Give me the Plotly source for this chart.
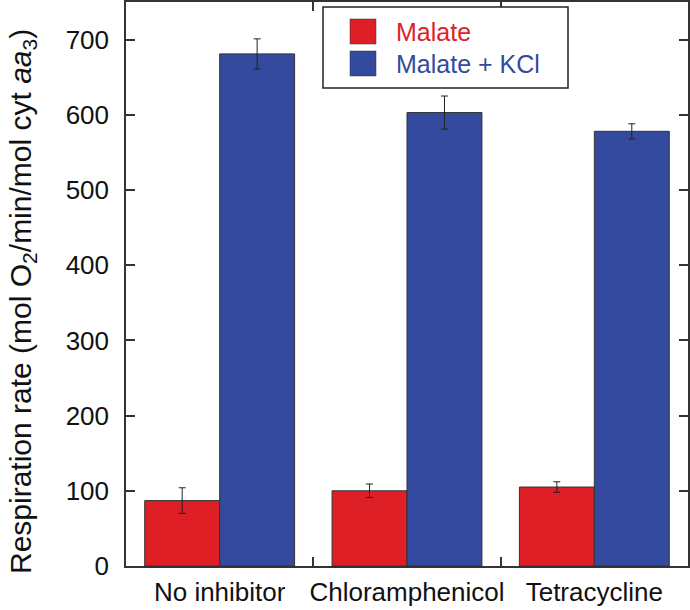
import plotly.graph_objects as go

categories = ["No inhibitor", "Chloramphenicol", "Tetracycline"]
malate = [87, 100, 105]
malate_err = [17, 9, 7]
malate_kcl = [681, 603, 578]
malate_kcl_err = [20, 22, 10]
series_names = ["Malate", "Malate + KCl"]
y_ticks = [0, 100, 200, 300, 400, 500, 600, 700]

RED = "#DE1F26"
BLUE = "#344A9E"
EDGE = "#333333"
FONT = "Liberation Sans, Arial, sans-serif"

W, H = 690, 610
ML, MR, MT, MB = 126, 2, 2, 44
PW, PH = W - ML - MR, H - MT - MB


def px(x):
    return (x - ML) / PW


def py(y):
    return 1 - (y - MT) / PH


fig = go.Figure()
for name, vals, errs, col in [
    (series_names[0], malate, malate_err, RED),
    (series_names[1], malate_kcl, malate_kcl_err, BLUE),
]:
    fig.add_trace(go.Bar(
        x=categories, y=vals, name=name,
        marker=dict(color=col, line=dict(color=EDGE, width=1)),
        error_y=dict(type="data", array=errs, visible=True,
                     color="#222222", thickness=1, width=3.5),
        showlegend=False,
    ))

# legend drawn manually
shapes = [
    dict(type="rect", xref="paper", yref="paper",
         x0=px(323), x1=px(568), y0=py(88), y1=py(7),
         line=dict(color="#222222", width=1.5), fillcolor="white", layer="above"),
    dict(type="rect", xref="paper", yref="paper",
         x0=px(350), x1=px(376), y0=py(44), y1=py(19),
         line=dict(color=EDGE, width=0.5), fillcolor=RED, layer="above"),
    dict(type="rect", xref="paper", yref="paper",
         x0=px(350), x1=px(376), y0=py(76), y1=py(51),
         line=dict(color=EDGE, width=0.5), fillcolor=BLUE, layer="above"),
]
annotations = [
    dict(xref="paper", yref="paper", x=px(394), y=py(32), xanchor="left", yanchor="middle",
         text=series_names[0], showarrow=False, font=dict(family=FONT, size=25, color=RED)),
    dict(xref="paper", yref="paper", x=px(394), y=py(64), xanchor="left", yanchor="middle",
         text=series_names[1], showarrow=False, font=dict(family=FONT, size=25, color=BLUE)),
    dict(xref="paper", yref="paper", x=px(22), y=py(302), xanchor="center", yanchor="middle",
         textangle=-90, showarrow=False,
         text="Respiration rate (mol O<sub>2</sub>/min/mol cyt <i>aa</i><sub>3</sub>)",
         font=dict(family=FONT, size=30, color="#111111")),
]

fig.update_layout(
    width=W, height=H,
    margin=dict(l=ML, r=MR, t=MT, b=MB),
    paper_bgcolor="white", plot_bgcolor="white",
    barmode="group", bargap=0.2, bargroupgap=0,
    font=dict(family=FONT, size=26, color="#111111"),
    shapes=shapes, annotations=annotations,
    xaxis=dict(
        type="category", range=[-0.5, 2.5], tickson="boundaries",
        ticks="inside", ticklen=9, tickcolor=EDGE, tickwidth=1.5,
        showline=True, linecolor=EDGE, linewidth=1.5, mirror="ticks",
        showgrid=False, automargin=False, tickfont=dict(size=26),
        tickangle=0, ticklabelstandoff=2,
    ),
    yaxis=dict(
        range=[0, 750], tickvals=y_ticks,
        ticks="inside", ticklen=9, tickcolor=EDGE, tickwidth=1.5,
        showline=True, linecolor=EDGE, linewidth=1.5, mirror="ticks",
        showgrid=False, zeroline=False, automargin=False,
        tickfont=dict(size=26), ticklabelstandoff=10,
    ),
)

fig.write_html("out.html", config={"displayModeBar": False},
               post_script="document.body.style.margin='0';")
